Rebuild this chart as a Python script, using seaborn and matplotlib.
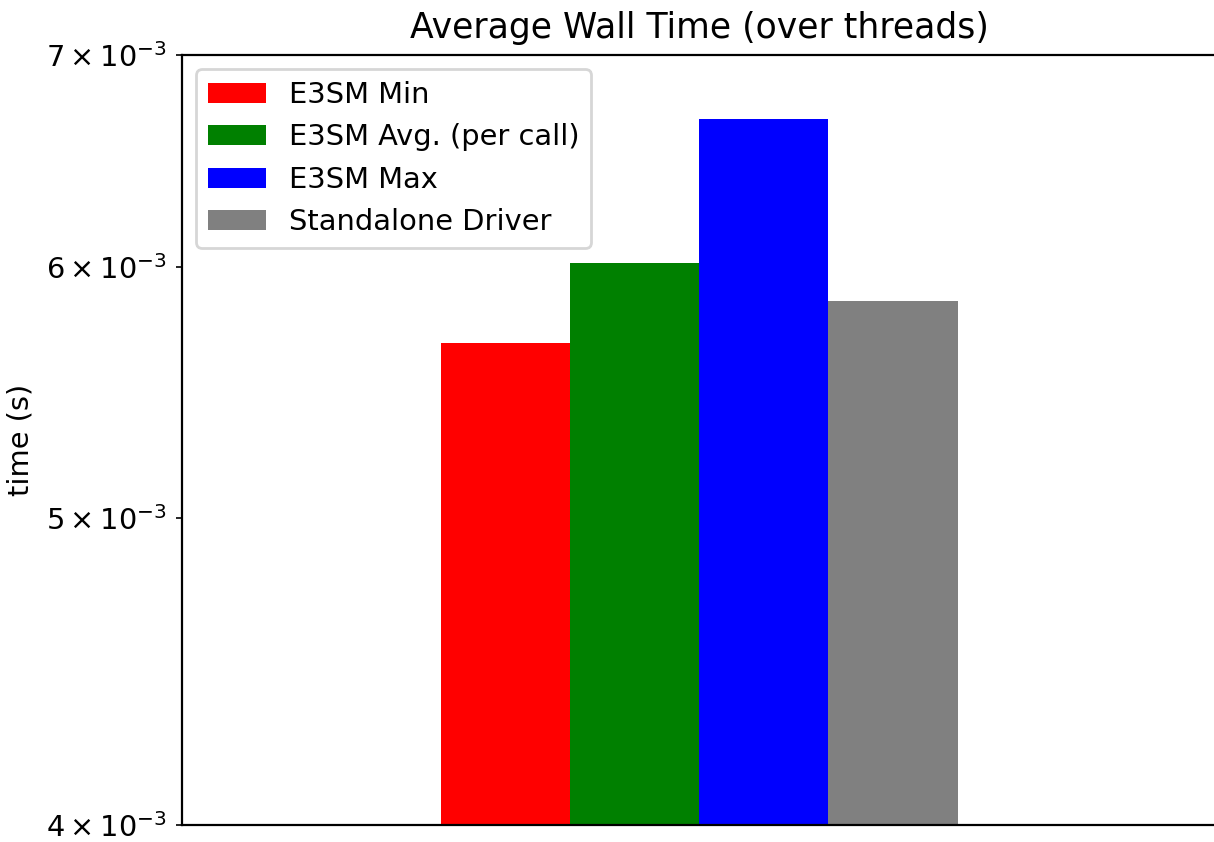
import pandas as pd
import matplotlib
matplotlib.use('Agg')
import matplotlib.pyplot as plt
import seaborn as sns

# Dados
labels = ['E3SM Min', 'E3SM Avg. (per call)', 'E3SM Max', 'Standalone Driver']
times = [5.68e-3, 6.02e-3, 6.68e-3, 5.855e-3]
colors = ['red', 'green', 'blue', 'gray']

df = pd.DataFrame({'group': ['run'] * len(labels), 'label': labels, 'time': times})

plt.rcParams['font.size'] = 10.4

fig = plt.figure(figsize=(6.07, 4.21), dpi=200)
ax = fig.add_axes([0.1499, 0.0202, 0.852, 0.9145])

sns.barplot(data=df, x='group', y='time', hue='label', palette=colors,
            saturation=1, width=0.5, ax=ax)

ax.set_yscale('log')
ax.set_ylim(4e-3, 7e-3)
ax.set_xlim(-0.5, 0.5)
ax.set_xticks([])
ax.set_xlabel('')
ax.set_ylabel('time (s)')
ax.set_title('Average Wall Time (over threads)')
ax.legend(loc='upper left')

fig.savefig('out.png', dpi=200)
